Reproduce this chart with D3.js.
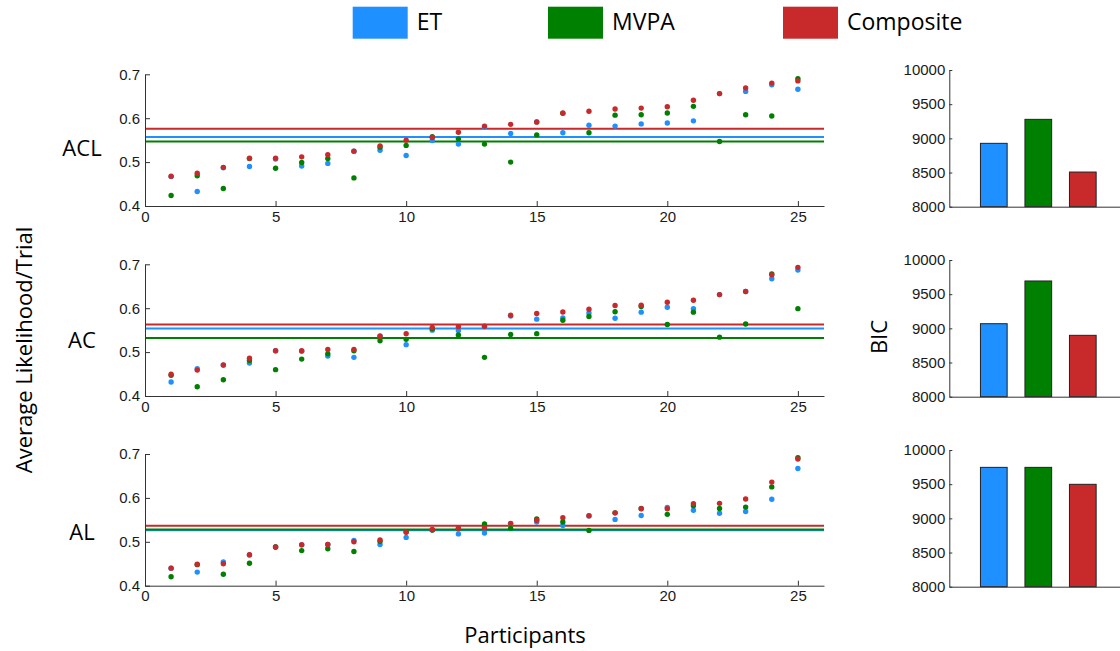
<!DOCTYPE html>
<html>
<head>
<meta charset="utf-8">
<script src="https://cdn.jsdelivr.net/npm/d3@7"></script>
<style>
  html, body { margin: 0; padding: 0; background: #fff; }
  svg { display: block; }
</style>
</head>
<body>
<svg id="chart" width="1120" height="651"></svg>
<script>
// ---------------- DATA ----------------
const participants = [1,2,3,4,5,6,7,8,9,10,11,12,13,14,15,16,17,18,19,20,21,22,23,24,25];
const seriesNames = ["ET", "MVPA", "Composite"];
const panelNames = ["ACL", "AC", "AL"];

const aclET   = [0.467,0.433,0.487,0.490,0.507,0.491,0.497,0.525,0.527,0.515,0.549,0.541,0.580,0.565,0.592,0.567,0.584,0.582,0.587,0.589,0.594,0.656,0.661,0.676,0.666];
const aclMVPA = [0.424,0.469,0.440,0.508,0.486,0.499,0.508,0.464,0.534,0.538,0.558,0.553,0.541,0.500,0.562,0.611,0.567,0.607,0.608,0.612,0.627,0.547,0.608,0.605,0.690];
const aclComp = [0.468,0.4745,0.488,0.509,0.509,0.512,0.517,0.525,0.537,0.550,0.556,0.568,0.582,0.586,0.591,0.612,0.616,0.621,0.623,0.626,0.641,0.656,0.669,0.680,0.685];
const aclMeans = [0.557, 0.547, 0.576];

const acET   = [0.432,0.462,0.470,0.475,0.503,0.502,0.491,0.488,0.537,0.517,0.550,0.549,0.558,0.582,0.575,0.578,0.589,0.577,0.591,0.602,0.599,0.631,0.638,0.667,0.687];
const acMVPA = [0.447,0.421,0.437,0.481,0.460,0.484,0.496,0.503,0.526,0.529,0.553,0.539,0.488,0.540,0.542,0.5725,0.581,0.592,0.604,0.563,0.591,0.534,0.564,0.678,0.599];
const acComp = [0.4495,0.459,0.471,0.486,0.503,0.503,0.506,0.506,0.536,0.542,0.556,0.558,0.559,0.584,0.588,0.5915,0.5975,0.606,0.607,0.6135,0.618,0.631,0.638,0.676,0.693];
const acMeans = [0.5535, 0.532, 0.5626];

const alET   = [0.440,0.431,0.454,0.470,0.488,0.493,0.494,0.503,0.494,0.510,0.527,0.518,0.520,0.541,0.545,0.537,0.559,0.551,0.560,0.578,0.572,0.565,0.569,0.597,0.667];
const alMVPA = [0.4205,0.448,0.426,0.451,0.488,0.480,0.484,0.478,0.501,0.523,0.527,0.530,0.5405,0.531,0.552,0.545,0.526,0.566,0.576,0.5625,0.582,0.576,0.579,0.625,0.6916];
const alComp = [0.440,0.449,0.450,0.4706,0.488,0.4934,0.494,0.500,0.504,0.5215,0.528,0.531,0.532,0.542,0.549,0.555,0.5595,0.566,0.5754,0.5754,0.587,0.5876,0.5975,0.636,0.6886];
const alMeans = [0.5265, 0.528, 0.5367];

const bicACL = [8927, 9278, 8507];
const bicAC  = [9068, 9693, 8898];
const bicAL  = [9746, 9746, 9498];

const xTicks = [0, 5, 10, 15, 20, 25];
const yTicks = [0.4, 0.5, 0.6, 0.7];
const bicTicks = [8000, 8500, 9000, 9500, 10000];

// ---------------- STYLE / LAYOUT ----------------
const colors = ["#1E90FF", "#008000", "#C8292B"];
const tickFont = "'Liberation Sans', Arial, sans-serif";
const labelFont = "'Open Sans', 'Noto Sans', sans-serif";

const panels = [
  { name: panelNames[0], series: [aclET, aclMVPA, aclComp], means: aclMeans, bic: bicACL },
  { name: panelNames[1], series: [acET, acMVPA, acComp], means: acMeans, bic: bicAC },
  { name: panelNames[2], series: [alET, alMVPA, alComp], means: alMeans, bic: bicAL }
];

const svg = d3.select("#chart");
const scatterLeft = 145, scatterRight = 824;
const panelTops = [74.3, 264.3, 454];
const panelH = 131.7;
const barTops = [70, 260, 450];
const barH = 136.7;
const barLeft = 949.3, barUnit = 44.5;
const labelY = [156, 348, 540];

const x = d3.scaleLinear().domain([0, 26]).range([scatterLeft, scatterRight]);
const xb = d3.scaleLinear().domain([0, 4]).range([barLeft, barLeft + 4 * barUnit]);

function styleAxis(g) {
  g.selectAll("path.domain").attr("stroke", "#333").attr("stroke-width", 1);
  g.selectAll(".tick line").attr("stroke", "#333");
  g.selectAll(".tick text").attr("fill", "#1a1a1a").style("font-family", tickFont).style("font-size", "15px");
}

panels.forEach((p, i) => {
  const top = panelTops[i];
  const y = d3.scaleLinear().domain([0.4, 0.7]).range([top + panelH, top]);
  const g = svg.append("g");

  // mean lines
  p.means.forEach((m, s) => {
    g.append("line")
      .attr("x1", x(0)).attr("x2", x(26))
      .attr("y1", y(m)).attr("y2", y(m))
      .attr("stroke", colors[s]).attr("stroke-width", 2);
  });

  // dots: ET, MVPA, Composite (composite on top)
  p.series.forEach((vals, s) => {
    g.selectAll(null).data(vals).enter().append("circle")
      .attr("cx", (d, k) => x(participants[k]))
      .attr("cy", d => y(d))
      .attr("r", 2.7)
      .attr("fill", colors[s]);
  });

  // axes
  const ax = g.append("g").attr("transform", `translate(0,${top + panelH})`)
    .call(d3.axisBottom(x).tickValues(xTicks).tickFormat(d3.format("d")).tickSizeInner(-5).tickSizeOuter(0).tickPadding(5));
  styleAxis(ax);
  const ay = g.append("g").attr("transform", `translate(${scatterLeft},0)`)
    .call(d3.axisLeft(y).tickValues(yTicks).tickFormat(d3.format(".1f")).tickSizeInner(-5).tickSizeOuter(0).tickPadding(5));
  styleAxis(ay);

  // panel label
  svg.append("text")
    .attr("x", 82).attr("y", labelY[i])
    .attr("text-anchor", "middle")
    .style("font-family", labelFont).style("font-size", "22px").attr("fill", "#000")
    .text(p.name);

  // BIC bars
  const bTop = barTops[i];
  const yb = d3.scaleLinear().domain([8000, 10000]).range([bTop + barH, bTop]);
  const gb = svg.append("g");
  gb.selectAll(null).data(p.bic).enter().append("rect")
    .attr("x", (d, k) => xb(k + 1 - 0.3))
    .attr("width", xb(0.6) - xb(0))
    .attr("y", d => yb(d))
    .attr("height", d => yb(8000) - yb(d))
    .attr("fill", (d, k) => colors[k])
    .attr("stroke", "#222").attr("stroke-width", 1);
  const bax = gb.append("g").attr("transform", `translate(0,${bTop + barH})`)
    .call(d3.axisBottom(xb).tickValues([]).tickSizeOuter(0));
  styleAxis(bax);
  const bay = gb.append("g").attr("transform", `translate(${barLeft},0)`)
    .call(d3.axisLeft(yb).tickValues(bicTicks).tickFormat(d3.format("d")).tickSizeInner(-3).tickSizeOuter(0).tickPadding(4));
  styleAxis(bay);
});

// axis titles
svg.append("text")
  .attr("transform", "translate(32,350) rotate(-90)")
  .attr("text-anchor", "middle")
  .style("font-family", labelFont).style("font-size", "22px").attr("fill", "#000")
  .text("Average Likelihood/Trial");
svg.append("text")
  .attr("x", 525).attr("y", 643)
  .attr("text-anchor", "middle")
  .style("font-family", labelFont).style("font-size", "22px").attr("fill", "#000")
  .text("Participants");
svg.append("text")
  .attr("transform", "translate(887,337) rotate(-90)")
  .attr("text-anchor", "middle")
  .style("font-family", labelFont).style("font-size", "22px").attr("fill", "#000")
  .text("BIC");

// legend
const legendX = [352.7, 548, 783];
const leg = svg.append("g");
seriesNames.forEach((n, s) => {
  leg.append("rect").attr("x", legendX[s]).attr("y", 6.7).attr("width", 55).attr("height", 32).attr("fill", colors[s]);
  leg.append("text").attr("x", legendX[s] + 64).attr("y", 30)
    .style("font-family", labelFont).style("font-size", "23px").attr("fill", "#000")
    .text(n);
});
</script>
</body>
</html>
